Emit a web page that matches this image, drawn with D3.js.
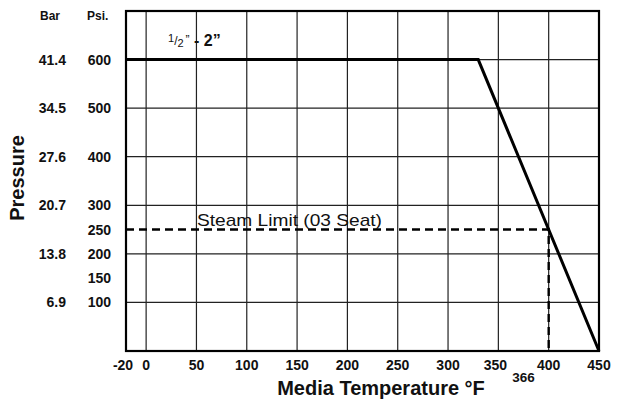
<!DOCTYPE html>
<html><head><meta charset="utf-8">
<script src="https://cdn.jsdelivr.net/npm/d3@7"></script>
<style>body{margin:0;background:#fff}svg{display:block}text{font-family:"Liberation Sans",Arial,Helvetica,sans-serif;fill:#111}</style>
</head><body><svg id="c" width="619" height="400"></svg>
<script>
// ---- data ----
const xTickValues = [-20, 0, 50, 100, 150, 200, 250, 300, 350, 400, 450];
const xGridValues = [0, 50, 100, 150, 200, 250, 300, 350, 400];
const psiTickValues = [600, 500, 400, 300, 250, 200, 150, 100];
const yGridValues = [100, 200, 300, 400, 500, 600];
const barValues = [600, 500, 400, 300, 200, 100];
const barLabels = ["41.4", "34.5", "27.6", "20.7", "13.8", "6.9"];
const ratingTemp = [-20, 330, 450];
const ratingPsi = [600, 600, 0];
const steamTemp = 400, steamPsi = 250;
const steamLabel = "Steam Limit (03 Seat)";
const extraTempLabel = "366", extraTempAt = 375;
const xMin = -20, xMax = 450, yMin = 0, yMax = 700;

const svg = d3.select("#c");
const x = d3.scaleLinear().domain([xMin, xMax]).range([126, 599]);
const y = d3.scaleLinear().domain([yMin, yMax]).range([351, 11]);

// grid
svg.append("g").selectAll("line").data(xGridValues).join("line")
  .attr("x1", d => x(d)).attr("x2", d => x(d)).attr("y1", y(yMax)).attr("y2", y(yMin))
  .attr("stroke", "#222").attr("stroke-width", 1.2);
svg.append("g").selectAll("line").data(yGridValues).join("line")
  .attr("x1", x(xMin)).attr("x2", x(xMax)).attr("y1", d => y(d)).attr("y2", d => y(d))
  .attr("stroke", "#222").attr("stroke-width", 1.2);

// frame
svg.append("rect").attr("x", x(xMin)).attr("y", y(yMax))
  .attr("width", x(xMax) - x(xMin)).attr("height", y(yMin) - y(yMax))
  .attr("fill", "none").attr("stroke", "#000").attr("stroke-width", 2.2);

// steam limit dashed
svg.append("path")
  .attr("d", d3.line()([[x(xMin), y(steamPsi)], [x(steamTemp), y(steamPsi)], [x(steamTemp), y(yMin)]]))
  .attr("fill", "none").attr("stroke", "#000").attr("stroke-width", 2.4).attr("stroke-dasharray", "8,5");

// rating line
svg.append("path")
  .datum(ratingTemp.map((t, i) => [t, ratingPsi[i]]))
  .attr("d", d3.line().x(d => x(d[0])).y(d => y(d[1])))
  .attr("fill", "none").attr("stroke", "#000").attr("stroke-width", 3);

// x tick labels
svg.append("g").selectAll("text").data(xTickValues).join("text")
  .attr("x", d => x(d) + (d === -20 ? -3 : d === 350 ? -3 : 0)).attr("y", 370)
  .attr("text-anchor", "middle").attr("font-size", 14).attr("font-weight", "bold")
  .text(d => d);
svg.append("text").attr("x", x(extraTempAt)).attr("y", 382).attr("text-anchor", "middle")
  .attr("font-size", 13.5).attr("font-weight", "bold").text(extraTempLabel);

// y labels
svg.append("g").selectAll("text").data(psiTickValues).join("text")
  .attr("x", 111).attr("y", d => y(d) + 5).attr("text-anchor", "end")
  .attr("font-size", 14).attr("font-weight", "bold").text(d => d);
svg.append("g").selectAll("text").data(barValues).join("text")
  .attr("x", 66).attr("y", d => y(d) + 5).attr("text-anchor", "end")
  .attr("font-size", 14).attr("font-weight", "bold").text((d, i) => barLabels[i]);
svg.append("text").attr("x", 40).attr("y", 20).attr("font-size", 12).attr("font-weight", "bold").text("Bar");
svg.append("text").attr("x", 87).attr("y", 20).attr("font-size", 12).attr("font-weight", "bold").text("Psi.");

// axis titles
svg.append("text").attr("transform", "translate(24,178) rotate(-90)").attr("text-anchor", "middle")
  .attr("font-size", 20).attr("font-weight", "bold").text("Pressure");
svg.append("text").attr("x", 381).attr("y", 395).attr("text-anchor", "middle")
  .attr("font-size", 20).attr("font-weight", "bold").text("Media Temperature °F");

// steam label
svg.append("text").attr("x", 197).attr("y", 226).attr("font-size", 17)
  .attr("textLength", 185).attr("lengthAdjust", "spacingAndGlyphs").text(steamLabel);

// size label  1/2" - 2"
const sz = svg.append("text").attr("x", 168).attr("y", 46).attr("font-weight", "bold");
sz.append("tspan").attr("font-size", 11).attr("dy", -4).attr("font-weight", "normal").text("1");
sz.append("tspan").attr("font-size", 12).attr("dy", 3).attr("font-weight", "normal").text("/");
sz.append("tspan").attr("font-size", 11).attr("dy", 2).attr("font-weight", "normal").text("2");
sz.append("tspan").attr("font-size", 12).attr("dy", -3).attr("dx", 2).attr("font-weight", "normal").text("”");
sz.append("tspan").attr("font-size", 16).attr("dy", 2).text(" - 2”");
</script></body></html>
